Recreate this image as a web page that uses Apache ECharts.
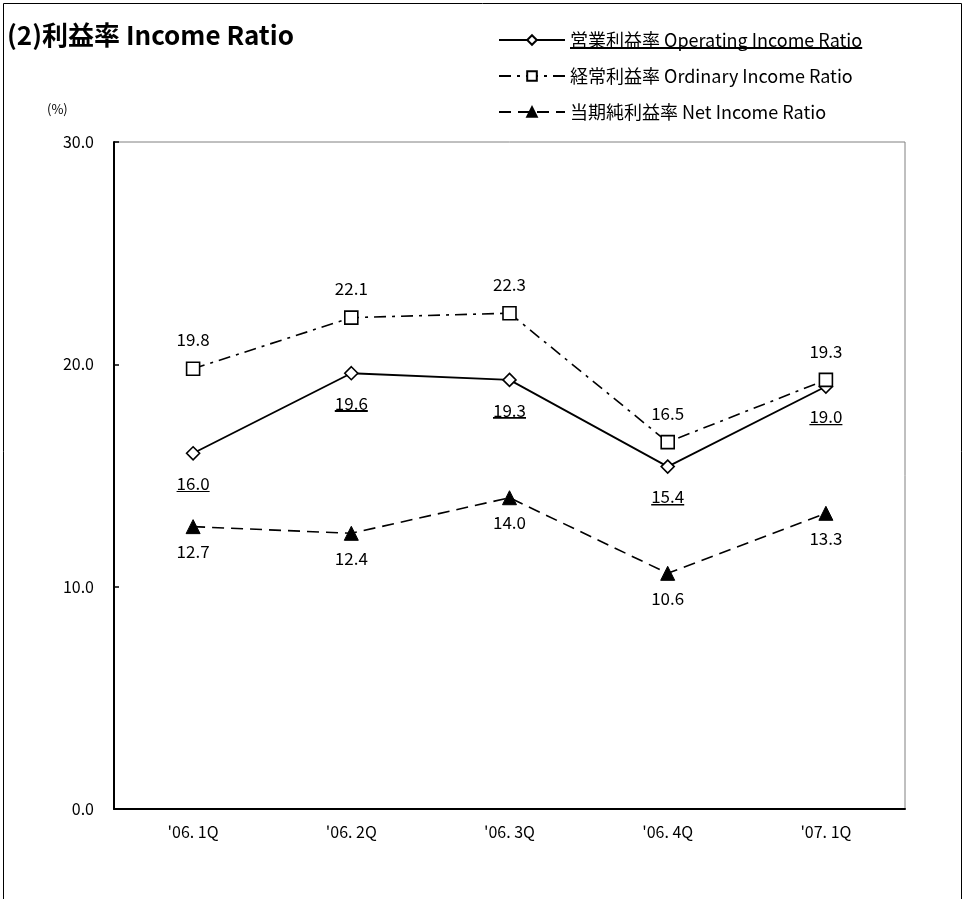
<!DOCTYPE html>
<html>
<head>
<meta charset="utf-8">
<script src="https://cdn.jsdelivr.net/npm/echarts@6/dist/echarts.min.js"></script>
<style>
html,body{margin:0;padding:0;background:#fff;}
#c{width:964px;height:899px;}
</style>
</head>
<body>
<div id="c"></div>
<script>
const categories = ["'06. 1Q", "'06. 2Q", "'06. 3Q", "'06. 4Q", "'07. 1Q"];
const operatingRatio = [16.0, 19.6, 19.3, 15.4, 19.0];
const ordinaryRatio = [19.8, 22.1, 22.3, 16.5, 19.3];
const netRatio = [12.7, 12.4, 14.0, 10.6, 13.3];
const seriesNames = ['営業利益率 Operating Income Ratio', '経常利益率 Ordinary Income Ratio', '当期純利益率 Net Income Ratio'];
const yTicks = [0, 10, 20, 30];

const FONT = '"Noto Sans CJK JP", "Noto Sans", sans-serif';
const underlineBg = {
  type: 'linear', x: 0, y: 0, x2: 0, y2: 1,
  colorStops: [
    {offset: 0, color: 'rgba(255,255,255,0)'},
    {offset: 0.91, color: 'rgba(255,255,255,0)'},
    {offset: 0.91, color: '#000'},
    {offset: 1, color: '#000'}
  ]
};

const chart = echarts.init(document.getElementById('c'), null, {renderer: 'canvas'});
chart.setOption({
  backgroundColor: '#fff',
  animation: false,
  textStyle: {fontFamily: FONT},
  title: {
    text: '(2)利益率 Income Ratio',
    left: 2, top: 17,
    textStyle: {fontFamily: FONT, fontSize: 26, fontWeight: 'bold', color: '#000'}
  },
  legend: {
    orient: 'vertical',
    left: 493, top: 26,
    itemWidth: 66, itemHeight: 12,
    itemGap: 18,
    data: seriesNames,
    textStyle: {
      fontFamily: FONT, fontSize: 18, color: '#000',
      rich: {
        u: {fontFamily: FONT, fontSize: 18, color: '#000', lineHeight: 21, backgroundColor: underlineBg},
        n: {fontFamily: FONT, fontSize: 18, color: '#000', lineHeight: 21}
      }
    },
    formatter: function (name) {
      return name === seriesNames[0] ? '{u|' + name + '}' : '{n|' + name + '}';
    }
  },
  graphic: [
    {type: 'rect', shape: {x: 3.5, y: 3.5, width: 958, height: 950}, style: {fill: 'none', stroke: '#000', lineWidth: 1}, silent: true},
    {type: 'text', left: 47, top: 103, style: {text: '(%)', font: '13px ' + FONT, fill: '#000'}}
  ],
  grid: {
    left: 114, right: 59, top: 142, bottom: 90,
    show: true, borderColor: '#808080', borderWidth: 1,
    containLabel: false
  },
  xAxis: {
    type: 'category',
    data: categories,
    boundaryGap: true,
    axisLine: {lineStyle: {color: '#000', width: 2}},
    axisTick: {inside: true, length: 6, lineStyle: {color: '#000', width: 1.5}},
    axisLabel: {color: '#000', fontSize: 16, fontFamily: FONT, margin: 15},
    splitLine: {show: false}
  },
  yAxis: {
    type: 'value',
    min: yTicks[0], max: yTicks[yTicks.length - 1], interval: 10,
    axisLine: {show: true, lineStyle: {color: '#000', width: 2}},
    axisTick: {show: true, inside: true, length: 5, lineStyle: {color: '#000', width: 1.5}},
    axisLabel: {color: '#000', fontSize: 16, fontFamily: FONT, margin: 20, formatter: v => v.toFixed(1)},
    splitLine: {show: false}
  },
  series: [
    {
      name: seriesNames[0], type: 'line', data: operatingRatio, z: 3,
      symbol: 'diamond', symbolSize: 13,
      lineStyle: {color: '#000', width: 1.8, type: 'solid'},
      itemStyle: {color: '#fff', borderColor: '#000', borderWidth: 1.6},
      label: {
        show: true, position: 'bottom', distance: 13,
        formatter: p => '{u|' + p.value.toFixed(1) + '}',
        rich: {u: {fontFamily: FONT, fontSize: 17, color: '#000', lineHeight: 20, backgroundColor: underlineBg}}
      }
    },
    {
      name: seriesNames[1], type: 'line', data: ordinaryRatio, z: 4,
      symbol: 'rect', symbolSize: 13,
      lineStyle: {color: '#000', width: 1.6, type: [12, 6, 3, 6]},
      itemStyle: {color: '#fff', borderColor: '#000', borderWidth: 1.6},
      label: {
        show: true, position: 'top', distance: 13,
        color: '#000', fontSize: 17, fontFamily: FONT,
        formatter: p => p.value.toFixed(1)
      }
    },
    {
      name: seriesNames[2], type: 'line', data: netRatio, z: 3,
      symbol: 'triangle', symbolSize: 14,
      lineStyle: {color: '#000', width: 1.6, type: [12, 7]},
      itemStyle: {color: '#000', borderColor: '#000', borderWidth: 1},
      label: {
        show: true, position: 'bottom', distance: 9,
        color: '#000', fontSize: 17, fontFamily: FONT,
        formatter: p => p.value.toFixed(1)
      }
    }
  ]
});
</script>
</body>
</html>
